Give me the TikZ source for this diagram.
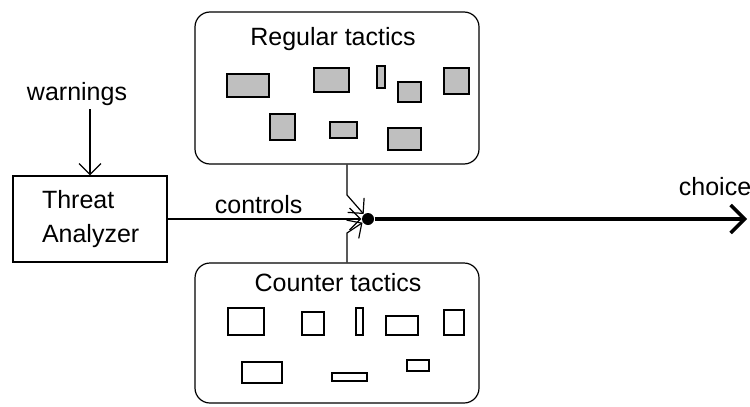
\documentclass[tikz,border=0pt]{standalone}
\usepackage{fontspec}
\setmainfont{Liberation Sans}
\usetikzlibrary{arrows.meta}
\begin{document}
\begin{tikzpicture}[x=1pt, y=-1pt, line width=1.2pt,
    font=\fontsize{25}{34}\selectfont,
    tip/.style={-{Straight Barb[length=11pt,width=22pt]}},
    group/.style={draw, rounded corners=15pt, minimum width=284pt},
    tactic/.style={line width=1.6pt}]
        \useasboundingbox (0,0) rectangle (750,407);

        \node[group, minimum height=152pt] (reg) at (337,88) {};
        \node[group, minimum height=140pt] (cnt) at (337,333) {};
        \node[anchor=base] (regt) at (333,45) {Regular tactics};
        \node[anchor=base] (cntt) at (338,291) {Counter tactics};

        \node[draw, align=left, text width=96pt, inner xsep=29pt,
              minimum height=86pt] (ta) at (90,219) {Threat\\Analyzer};
        \node[anchor=base] (warn) at (77,100) {warnings};
        \node[circle, fill, inner sep=0pt, minimum size=12pt] (jn) at (368,219) {};
        \node[anchor=base west] (choice) at (675,195) {choice};
        \coordinate (ka) at (347,195);
        \coordinate (kb) at (347,233);
        \coordinate (out) at (747,219);

        \foreach \a/\b/\c/\d in {227/74/269/97, 314/68/349/92, 377/66/385/88,
            398/82/421/102, 444/68/469/94, 270/114/295/140, 330/122/357/138,
            388/128/421/150}
          \draw[tactic, fill=black!25] (\a,\b) rectangle (\c,\d);
        \foreach \a/\b/\c/\d in {228/308/264/335, 302/312/324/335, 356/308/363/335,
            386/316/418/335, 444/310/464/335, 242/362/282/383, 332/373/367/381,
            407/360/429/371}
          \draw[tactic] (\a,\b) rectangle (\c,\d);

        \draw[tip] (warn.south -| ta.north) -- (ta.north);
        \draw[tip] (ta.east) -- node[above, inner sep=5pt, pos=0.47] {controls} (jn);
        \draw[tip] (ka |- reg.south) -- (ka) -- (jn);
        \draw[tip] (kb |- cnt.north) -- (kb) -- (jn);
        \draw[-{Straight Barb[length=14pt,width=28pt]}, line width=3.5pt] (jn) -- (out);

      \end{tikzpicture}
\end{document}
